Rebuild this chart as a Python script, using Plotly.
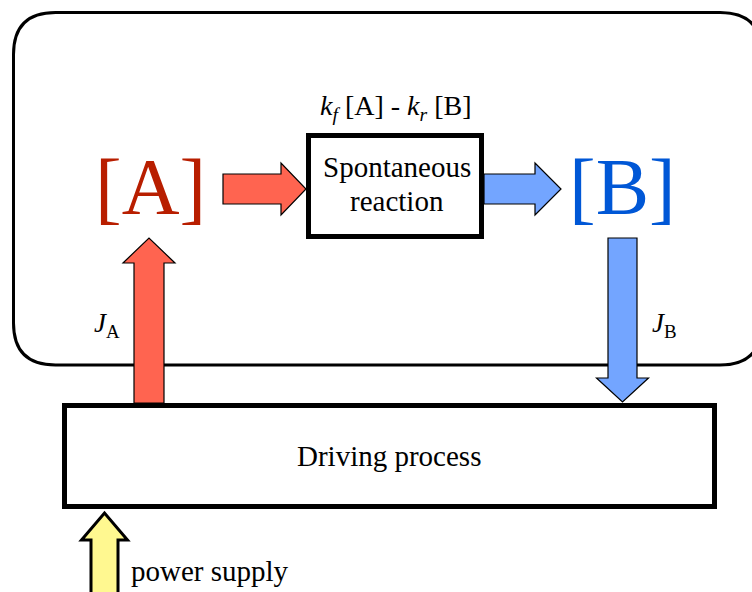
import plotly.graph_objects as go

# ---- diagram content ----
species_labels = ["[A]", "[B]"]
species_colors = ["#B81E00", "#0057D6"]
species_pos_x = [150, 622]
species_pos_y = [187, 187]

process_labels = ["Spontaneous", "reaction", "Driving process"]
rate_label = "<i>k</i><sub><i>f</i></sub> [A] - <i>k</i><sub><i>r</i></sub> [B]"
flux_labels = ["<i>J</i><sub>A</sub>", "<i>J</i><sub>B</sub>"]
power_label = "power supply"

RED = "#FF6450"
BLUE = "#73A5FF"
YELLOW = "#FFF890"
FONT = "Liberation Serif, Times New Roman, serif"

W, H = 752, 592

def poly(points):
    return "M " + " L ".join(f"{x},{y}" for x, y in points) + " Z"

def arrow_right(x0, x1, xh, yc, bh, hh):
    return poly([(x0, yc - bh), (xh, yc - bh), (xh, yc - hh), (x1, yc),
                 (xh, yc + hh), (xh, yc + bh), (x0, yc + bh)])

def arrow_vert(xc, y0, y1, yh, bw, hw):
    return poly([(xc - bw, y0), (xc - bw, yh), (xc - hw, yh), (xc, y1),
                 (xc + hw, yh), (xc + bw, yh), (xc + bw, y0)])

def rounded_rect(x0, y0, x1, y1, r):
    return (f"M {x0 + r},{y0} L {x1 - r},{y0} Q {x1},{y0} {x1},{y0 + r} "
            f"L {x1},{y1 - r} Q {x1},{y1} {x1 - r},{y1} L {x0 + r},{y1} "
            f"Q {x0},{y1} {x0},{y1 - r} L {x0},{y0 + r} Q {x0},{y0} {x0 + r},{y0} Z")

shapes = []
# outer rounded compartment
shapes.append(dict(type="path", path=rounded_rect(13.5, 12.5, 762, 365, 42),
                   line=dict(color="black", width=3), fillcolor="rgba(0,0,0,0)", layer="above"))
# horizontal arrows
shapes.append(dict(type="path", path=arrow_right(223, 306, 281, 189, 15, 26),
                   line=dict(color="black", width=1.2), fillcolor=RED, layer="above"))
shapes.append(dict(type="path", path=arrow_right(484, 561, 535, 189, 15, 26),
                   line=dict(color="black", width=1.2), fillcolor=BLUE, layer="above"))
# vertical flux arrows
shapes.append(dict(type="path", path=arrow_vert(149, 403, 238, 263, 15, 26),
                   line=dict(color="black", width=1.2), fillcolor=RED, layer="above"))
shapes.append(dict(type="path", path=arrow_vert(622.5, 238, 402, 378, 14.5, 26),
                   line=dict(color="black", width=1.2), fillcolor=BLUE, layer="above"))
# spontaneous reaction box
shapes.append(dict(type="rect", x0=308.5, x1=481.5, y0=135.5, y1=236.5,
                   line=dict(color="black", width=5), fillcolor="white", layer="above"))
# driving process box
shapes.append(dict(type="rect", x0=64.5, x1=714.5, y0=405.5, y1=506.5,
                   line=dict(color="black", width=5), fillcolor="white", layer="above"))
# power supply arrow
shapes.append(dict(type="path", path=arrow_vert(104.5, 600, 513, 540, 13.5, 23),
                   line=dict(color="black", width=3), fillcolor=YELLOW, layer="above"))

annotations = []
for lab, col, x, y in zip(species_labels, species_colors, species_pos_x, species_pos_y):
    annotations.append(dict(x=x, y=y, text=lab, showarrow=False, xanchor="center", yanchor="middle",
                            font=dict(family=FONT, size=80, color=col)))
annotations.append(dict(x=396, y=107, text=rate_label, showarrow=False, xanchor="center", yanchor="middle",
                        font=dict(family=FONT, size=28, color="black")))
annotations.append(dict(x=397, y=167, text=process_labels[0], showarrow=False, xanchor="center", yanchor="middle",
                        font=dict(family=FONT, size=29, color="black")))
annotations.append(dict(x=397, y=201, text=process_labels[1], showarrow=False, xanchor="center", yanchor="middle",
                        font=dict(family=FONT, size=29, color="black")))
annotations.append(dict(x=389, y=456, text=process_labels[2], showarrow=False, xanchor="center", yanchor="middle",
                        font=dict(family=FONT, size=29, color="black")))
annotations.append(dict(x=107, y=325, text=flux_labels[0], showarrow=False, xanchor="center", yanchor="middle",
                        font=dict(family=FONT, size=27, color="black")))
annotations.append(dict(x=664, y=325, text=flux_labels[1], showarrow=False, xanchor="center", yanchor="middle",
                        font=dict(family=FONT, size=27, color="black")))
annotations.append(dict(x=129, y=571, text=power_label, showarrow=False, xanchor="left", yanchor="middle",
                        font=dict(family=FONT, size=29, color="black")))

fig = go.Figure()
fig.add_trace(go.Scatter(x=[0, W], y=[0, H], mode="markers", marker=dict(opacity=0),
                         hoverinfo="skip", showlegend=False))
fig.update_layout(
    width=W, height=H,
    margin=dict(l=0, r=0, t=0, b=0),
    paper_bgcolor="white", plot_bgcolor="white",
    xaxis=dict(range=[0, W], visible=False, fixedrange=True),
    yaxis=dict(range=[H, 0], visible=False, fixedrange=True),
    shapes=shapes, annotations=annotations, showlegend=False,
)
fig.write_html("out.html", config={"displayModeBar": False},
               post_script="document.body.style.margin='0';")
